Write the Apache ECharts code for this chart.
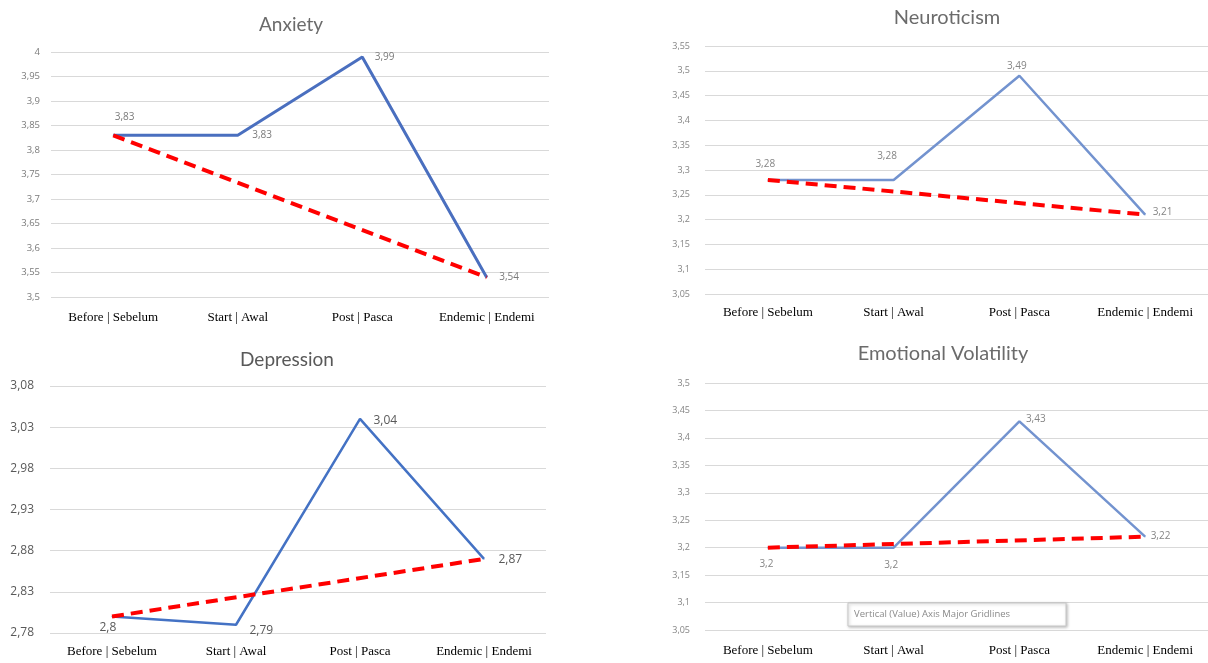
<!DOCTYPE html>
<html>
<head>
<meta charset="utf-8">
<script src="https://cdn.jsdelivr.net/npm/echarts@6/dist/echarts.min.js"></script>
<style>
html,body{margin:0;padding:0;background:#fff;}
#chart{width:1208px;height:663px;}
</style>
</head>
<body>
<div id="chart"></div>
<script>
// ---- data ----
const categories = ['Before | Sebelum', 'Start | Awal', 'Post | Pasca', 'Endemic | Endemi'];
const anxietyValues = [3.83, 3.83, 3.99, 3.54];
const neuroticismValues = [3.28, 3.28, 3.49, 3.21];
const depressionValues = [2.8, 2.79, 3.04, 2.87];
const volatilityValues = [3.2, 3.2, 3.43, 3.22];
const titles = ['Anxiety', 'Neuroticism', 'Depression', 'Emotional Volatility'];
const yRanges = [[3.5, 4], [3.05, 3.55], [2.78, 3.08], [3.05, 3.5]];
const yInterval = 0.05;

// ---- layout / style (not data) ----
const grids = [
  {left: 51, top: 52, width: 498, height: 245},
  {left: 705, top: 46, width: 503, height: 248},
  {left: 50, top: 386, width: 496, height: 247},
  {left: 705, top: 383, width: 503, height: 247}
];
const titlePos = [[286, 10, 19], [942, 3, 20], [282, 345, 19], [938, 339, 20]];
const labelOffsets = [
  [[2, -23], [15, -5], [13, -4], [13, -5]],
  [[-12, -20], [-16, -28], [-12, -14], [8, -7]],
  [[-12, 6], [14, 0], [14, -4], [15, -5]],
  [[-8, 12], [-9, 13], [7, -7], [6, -5]]
];
const yLabelFont = [9.5, 9, 12, 9];
const yLabelMargin = [11, 15, 16, 15];
const xLabelMargin = [14, 12, 12, 14];
const valueFont = [10, 10, 12, 10];
const blueColors = ['#4A6FBF', '#7393CF', '#4472C4', '#7393CF'];
const textColors = ['#7a7a7a', '#858585', '#595959', '#858585'];

const allValues = [anxietyValues, neuroticismValues, depressionValues, volatilityValues];
const fmt = v => String(+(+v).toFixed(2)).replace('.', ',');

const option = {
  animation: false,
  backgroundColor: '#fff',
  title: titles.map((t, i) => ({
    text: t, left: titlePos[i][0], top: titlePos[i][1], textAlign: 'center',
    textStyle: {fontFamily: 'Lato, "Open Sans", sans-serif', fontWeight: 'normal', fontSize: titlePos[i][2], color: i === 2 ? '#595959' : '#6b6b6b'}
  })),
  grid: grids,
  xAxis: grids.map((g, i) => ({
    type: 'category', gridIndex: i, data: categories, boundaryGap: true,
    axisLine: {show: false}, axisTick: {show: false},
    axisLabel: {fontFamily: '"Liberation Serif", "Times New Roman", serif', fontSize: 13, color: '#000', margin: xLabelMargin[i], interval: 0}
  })),
  yAxis: grids.map((g, i) => ({
    type: 'value', gridIndex: i, min: yRanges[i][0], max: yRanges[i][1], interval: yInterval,
    axisLine: {show: false}, axisTick: {show: false},
    splitLine: {lineStyle: {color: '#d9d9d9', width: 1}},
    axisLabel: {fontFamily: '"Open Sans", sans-serif', fontSize: yLabelFont[i], color: textColors[i], margin: yLabelMargin[i], formatter: fmt, showMinLabel: true, showMaxLabel: true}
  })),
  series: [],
  graphic: [
    {type: 'rect', shape: {x: 848, y: 603, width: 218, height: 23},
     style: {fill: '#fff', stroke: '#c8c8c8', lineWidth: 1, shadowBlur: 3, shadowColor: 'rgba(0,0,0,0.25)', shadowOffsetX: 1, shadowOffsetY: 1}, z: 100},
    {type: 'text', x: 854, y: 614, z: 101,
     style: {text: 'Vertical (Value) Axis Major Gridlines', font: '9.5px "Open Sans", sans-serif', fill: '#8a8a8a', verticalAlign: 'middle'}}
  ]
};

allValues.forEach((vals, i) => {
  option.series.push({
    type: 'line', xAxisIndex: i, yAxisIndex: i, z: 2,
    symbol: 'circle', symbolSize: 1,
    itemStyle: {color: blueColors[i]},
    lineStyle: {color: blueColors[i], width: i === 0 ? 3 : 2.5},
    data: vals.map((v, k) => ({
      value: v,
      label: {show: true, position: labelOffsets[i][k], formatter: p => fmt(p.value),
              fontFamily: '"Open Sans", sans-serif', fontSize: valueFont[i], color: textColors[i]}
    }))
  });
  const trend = vals.map((v, k) => (k === 0 || k === vals.length - 1) ? v : null);
  option.series.push({
    type: 'line', xAxisIndex: i, yAxisIndex: i, z: 3,
    symbol: 'none', connectNulls: true,
    lineStyle: {color: '#FF0000', width: 4, type: [12, 7]},
    data: trend
  });
});

const chart = echarts.init(document.getElementById('chart'));
chart.setOption(option);
</script>
</body>
</html>
